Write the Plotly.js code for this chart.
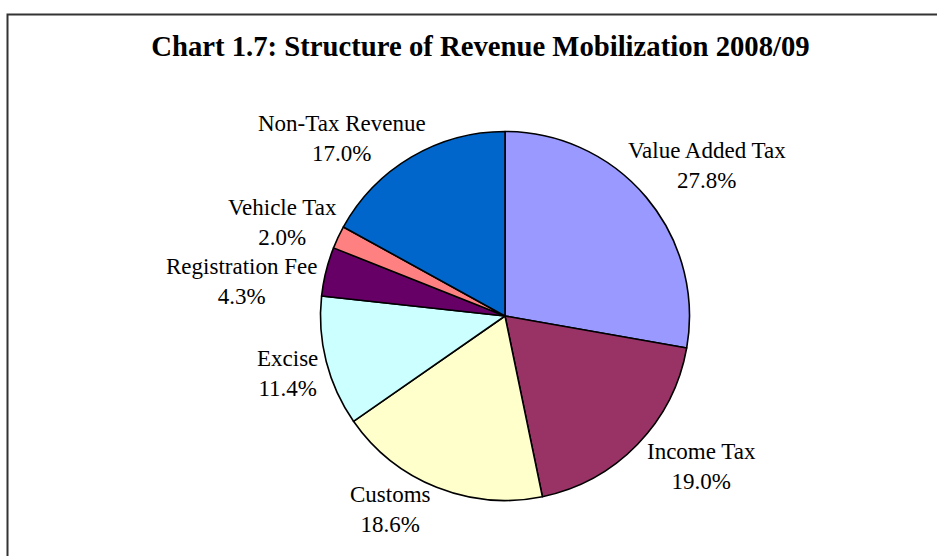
<!DOCTYPE html>
<html>
<head>
<meta charset="utf-8">
<script src="https://cdn.plot.ly/plotly-3.0.1.min.js"></script>
<style>html,body{margin:0;padding:0;background:#fff;}#chart{width:937px;height:556px;}</style>
</head>
<body>
<div id="chart"></div>
<script>
var categories = ["Value Added Tax", "Income Tax", "Customs", "Excise", "Registration Fee", "Vehicle Tax", "Non-Tax Revenue"];
var shares = [27.8, 19.0, 18.6, 11.4, 4.3, 2.0, 17.0];
var sliceColors = ["#9999FF", "#993366", "#FFFFCC", "#CCFFFF", "#660066", "#FF8080", "#0066CC"];
var titleText = "Chart 1.7: Structure of Revenue Mobilization 2008/09";

// label placement (layout only): distance from centre along each slice's mid-angle, plus a pixel nudge
var labelDist = 224;
var labelNudgeX = [30, 36, -31, 0, -46.5, -19.5, -49];
var labelNudgeY = [-6.5, -6, -14.5, 1.7, 19, 1.7, 15.4];

var W = 937, H = 556;
var cx = 505, cy = 316, r = 184.5;
var serif = "Liberation Serif, Times New Roman, serif";

var total = shares.reduce(function (a, b) { return a + b; }, 0);
var annotations = [];
var cum = 0;
shares.forEach(function (v, i) {
  var mid = (cum + v / 2) / total * 2 * Math.PI;
  cum += v;
  var px = cx + labelDist * Math.sin(mid) + labelNudgeX[i];
  var py = cy - labelDist * Math.cos(mid) + labelNudgeY[i];
  annotations.push({
    xref: "paper", yref: "paper",
    x: px / W, y: 1 - py / H,
    xanchor: "center", yanchor: "middle", align: "center",
    showarrow: false,
    text: categories[i] + "<br>" + v.toFixed(1) + "%",
    font: { family: serif, size: 23, color: "#000000" }
  });
});

var trace = {
  type: "pie",
  labels: categories,
  values: shares,
  textinfo: "none",
  sort: false,
  direction: "clockwise",
  rotation: 0,
  hoverinfo: "none",
  marker: { colors: sliceColors, line: { color: "#000000", width: 1.6 } },
  domain: { x: [(cx - r) / W, (cx + r) / W], y: [(H - cy - r) / H, (H - cy + r) / H] },
  showlegend: false
};

var layout = {
  width: W, height: H,
  margin: { l: 0, r: 0, t: 0, b: 0 },
  paper_bgcolor: "#ffffff",
  showlegend: false,
  title: {
    text: "<b>" + titleText + "</b>",
    font: { family: serif, size: 28.7, color: "#000000" },
    x: 480.5 / W, xanchor: "center", xref: "paper",
    y: 1 - 46 / H, yanchor: "middle", yref: "container"
  },
  annotations: annotations,
  shapes: [{
    type: "path", xref: "paper", yref: "paper",
    path: "M " + (7.5 / W) + " -0.05 L " + (7.5 / W) + " " + (1 - 14.5 / H) + " L 1.05 " + (1 - 14.5 / H),
    line: { color: "#333333", width: 2 }
  }]
};

Plotly.newPlot("chart", [trace], layout, { staticPlot: true, displayModeBar: false });
</script>
</body>
</html>
